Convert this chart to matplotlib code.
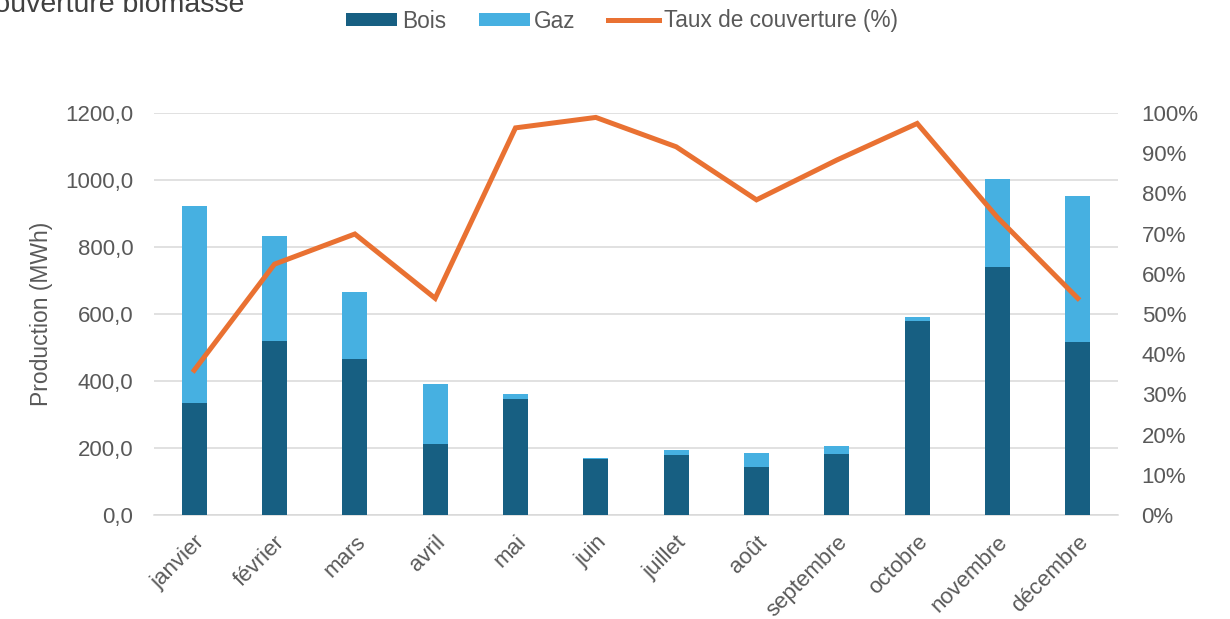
import matplotlib
matplotlib.use("Agg")
import matplotlib.pyplot as plt
import numpy as np
from matplotlib.ticker import FuncFormatter, FixedLocator

months = ["janvier", "février", "mars", "avril", "mai", "juin", "juillet",
          "août", "septembre", "octobre", "novembre", "décembre"]
bois = [334, 519, 466, 212, 346, 168, 179, 144, 182, 578, 740, 515]
gaz = [588, 314, 200, 179, 15, 3, 15, 40, 24, 14, 262, 437]
taux = [36, 62.4, 69.9, 53.9, 96.3, 98.9, 91.6, 78.4, 88.3, 97.4, 74, 53.9]
left_ticks = [0, 200, 400, 600, 800, 1000, 1200]
right_ticks = [0, 10, 20, 30, 40, 50, 60, 70, 80, 90, 100]

C_BOIS = "#175F82"
C_GAZ = "#46B0E1"
C_LINE = "#E97132"
GREY = "#595959"
FS = 16

plt.rcParams['font.family'] = ['Liberation Sans', 'DejaVu Sans']

W, H = 1230, 619
fig = plt.figure(figsize=(W/100, H/100), dpi=100)
ax = fig.add_axes([154/W, 1-515/H, (1118-154)/W, (515-113)/H])
x = np.arange(len(months))
ax.bar(x, bois, width=0.31, color=C_BOIS, label="Bois", zorder=3)
ax.bar(x, gaz, width=0.31, bottom=bois, color=C_GAZ, label="Gaz", zorder=3)
ax.set_xlim(-0.5, len(months) - 0.5)
ax.set_ylim(0, 1200)
ax.yaxis.set_major_locator(FixedLocator(left_ticks))
ax.yaxis.set_major_formatter(FuncFormatter(lambda v, p: f"{v:.1f}".replace(".", ",")))
ax.grid(axis="y", color="#D9D9D9", linewidth=1.1, zorder=0)
ax.set_axisbelow(True)
for s in ["top", "right", "left"]:
    ax.spines[s].set_visible(False)
ax.spines["bottom"].set_color("#D9D9D9")
ax.spines["bottom"].set_linewidth(1.1)
ax.tick_params(axis="both", length=0, colors=GREY, labelsize=FS)
ax.tick_params(axis="y", pad=15)
ax.set_xticks(x)
ax.set_xticklabels(months, rotation=45, ha="right", rotation_mode="anchor")
ax.tick_params(axis="x", pad=12)
ax.set_ylabel("Production (MWh)", color=GREY, fontsize=16.5)
ax.yaxis.set_label_coords((53 - 154) / (1118 - 154), 0.5)

ax2 = ax.twinx()
ax2.plot(x, taux, color=C_LINE, linewidth=3.6, label="Taux de couverture (%)",
         zorder=4, solid_joinstyle="miter")
ax2.set_ylim(0, 100)
ax2.yaxis.set_major_locator(FixedLocator(right_ticks))
ax2.yaxis.set_major_formatter(FuncFormatter(lambda v, p: f"{v:.0f}%"))
ax2.tick_params(axis="y", length=0, colors=GREY, labelsize=FS, pad=17)
for s in ["top", "right", "left", "bottom"]:
    ax2.spines[s].set_visible(False)

h1, l1 = ax.get_legend_handles_labels()
h2, l2 = ax2.get_legend_handles_labels()
fig.legend(h1 + h2, l1 + l2, loc="center", bbox_to_anchor=(622/W, 1 - 21/H),
           ncol=3, frameon=False, fontsize=16.3, handlelength=2.25, handleheight=0.45,
           columnspacing=1.45, handletextpad=0.2, labelcolor=GREY,
           borderpad=0, borderaxespad=0)

fig.text(-20/W, 1 - 12/H, "couverture biomasse", fontsize=20.5, color="#404040",
         ha="left", va="baseline")

fig.savefig("out.png", dpi=100)
